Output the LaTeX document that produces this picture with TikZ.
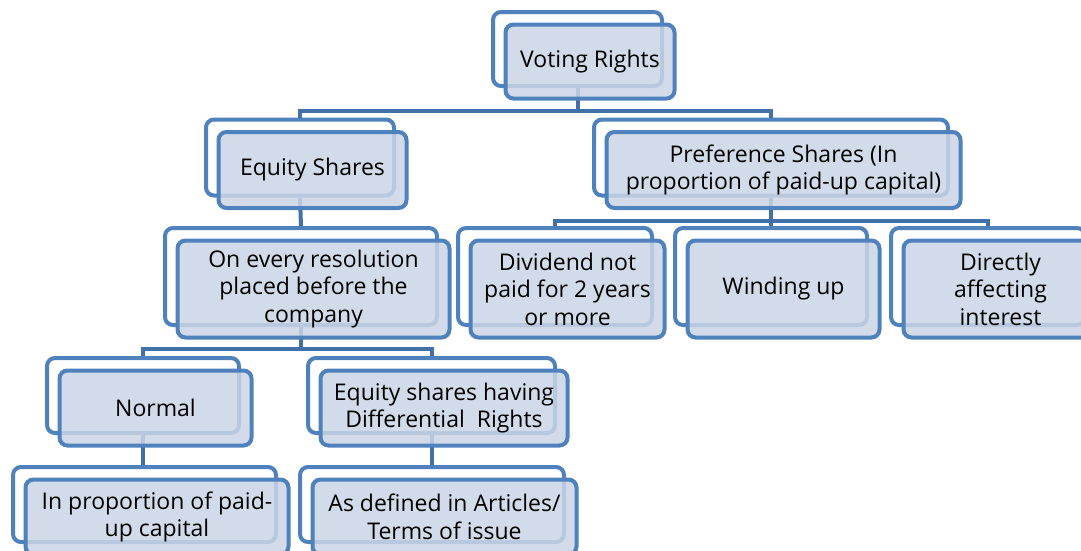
\documentclass[tikz,border=0pt]{standalone}
\usepackage{fontspec}
\setmainfont{Open Sans}
\definecolor{boxline}{RGB}{79,129,189}
\definecolor{connline}{RGB}{66,113,170}
\definecolor{frontfill}{RGB}{203,213,230}
\begin{document}
\begin{tikzpicture}[x=1pt,y=-1pt,
  backbox/.style={draw=boxline, line width=4pt, fill=white, rounded corners=8pt, inner sep=0pt},
  frontbox/.style={draw=boxline, line width=4pt, fill=frontfill, fill opacity=0.85, draw opacity=1, text opacity=1,
     rounded corners=8pt, inner sep=0pt, align=center, font=\fontsize{23}{27.6}\selectfont, text=black},
  conn/.style={draw=connline, line width=4pt, line join=miter}]
\useasboundingbox (0,0) rectangle (1081,550);
\clip (0,0) rectangle (1081,550);
% back boxes
\node[backbox, minimum width=169pt, minimum height=74pt] (vb) at (577.5,49) {};
\node[backbox, minimum width=188pt, minimum height=76pt] (eb) at (300,157.5) {};
\node[backbox, minimum width=354pt, minimum height=76pt] (pb) at (771,157.5) {};
\node[backbox, minimum width=272pt, minimum height=97pt] (ob) at (301,276.5) {};
\node[backbox, minimum width=194pt, minimum height=97pt] (db) at (555,276.5) {};
\node[backbox, minimum width=192pt, minimum height=97pt] (wb) at (771,276.5) {};
\node[backbox, minimum width=194pt, minimum height=97pt] (ib) at (988,276.5) {};
\node[backbox, minimum width=192pt, minimum height=75pt] (nb) at (143,395.5) {};
\node[backbox, minimum width=247pt, minimum height=75pt] (qb) at (431.5,395.5) {};
\node[backbox, minimum width=263pt, minimum height=75pt] (rb) at (144.5,504.5) {};
\node[backbox, minimum width=264pt, minimum height=75pt] (ab) at (432,504.5) {};
% connectors
\draw[conn] (vb.south) -- ++(0,23) coordinate (j1);
\draw[conn] (eb.north) |- (j1) -| (pb.north);
\draw[conn] (eb.south) -- (ob.north);
\draw[conn] (pb.south) -- ++(0,23) coordinate (j2);
\draw[conn] (db.north) |- (j2) -| (ib.north);
\draw[conn] (j2) -- (wb.north);
\draw[conn] (ob.south) -- ++(0,22) coordinate (j3);
\draw[conn] (nb.north) |- (j3) -| (qb.north);
\draw[conn] (nb.south) -- (nb.south |- rb.north);
\draw[conn] (qb.south) -- (qb.south |- ab.north);
% front boxes
\node[frontbox, minimum width=169pt, minimum height=74pt] (vf) at (590,61.5) {Voting Rights};
\node[frontbox, minimum width=188pt, minimum height=76pt] (ef) at (312.5,170) {Equity Shares};
\node[frontbox, minimum width=354pt, minimum height=76pt] (pf) at (783.5,170) {Preference Shares (In\\proportion of paid-up capital)};
\node[frontbox, minimum width=272pt, minimum height=97pt] (of) at (313.5,289) {On every resolution\\placed before the\\company};
\node[frontbox, minimum width=194pt, minimum height=97pt] (df) at (567.5,289) {Dividend not\\paid for 2 years\\or more};
\node[frontbox, minimum width=192pt, minimum height=97pt] (wf) at (783.5,289) {Winding up};
\node[frontbox, minimum width=194pt, minimum height=97pt] (if) at (1000.5,289) {Directly\\affecting\\interest};
\node[frontbox, minimum width=192pt, minimum height=75pt] (nf) at (155.5,408) {Normal};
\node[frontbox, minimum width=247pt, minimum height=75pt] (qf) at (444,408) {Equity shares having\\Differential \ Rights};
\node[frontbox, minimum width=263pt, minimum height=75pt] (rf) at (157,517) {In proportion of paid-\\up capital};
\node[frontbox, minimum width=264pt, minimum height=75pt] (af) at (444.5,517) {As defined in Articles/\\Terms of issue};
\end{tikzpicture}
\end{document}
